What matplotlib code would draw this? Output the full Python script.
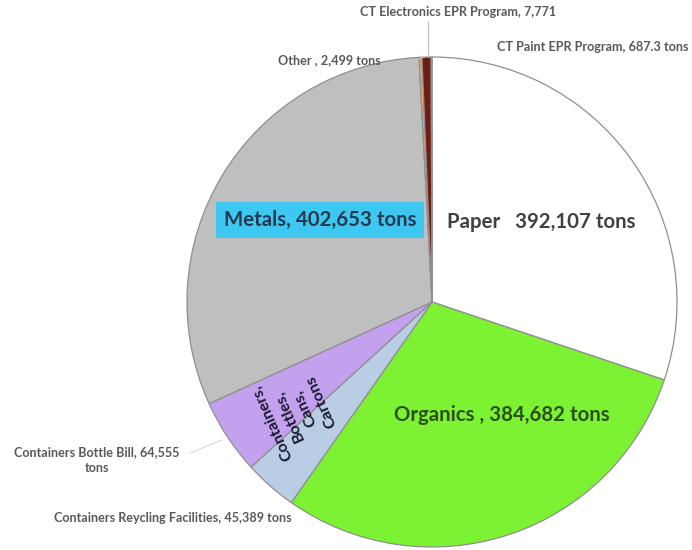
import matplotlib.pyplot as plt

# tons by source, clockwise from 12 o'clock
labels = ['Paper', 'Organics', 'Containers Reycling Facilities', 'Containers Bottle Bill',
          'Metals', 'Other', 'CT Electronics EPR Program', 'CT Paint EPR Program']
tons = [392107, 384682, 45389, 64555, 402653, 2499, 7771, 687.3]
colors = ['#ffffff', '#7df233', '#b9cde5', '#c3a1ee', '#bfbfbf', '#e8a96a', '#6e1d12', '#ffffff']

plt.rcParams['font.family'] = ['Lato', 'DejaVu Sans']

fig = plt.figure(figsize=(6.92, 5.5), dpi=100)
ax = fig.add_axes([0, 0, 1, 1])

ax.pie(tons, colors=colors, startangle=90, counterclock=False,
       center=(432, 248), radius=245, frame=True,
       wedgeprops=dict(edgecolor='#8f8f8f', linewidth=0.9))
ax.set_xlim(0, 692)
ax.set_ylim(0, 550)
ax.set_aspect('auto')
ax.axis('off')

# inside labels
big = 14.7
ax.text(447, 328, 'Paper   392,107 tons', fontsize=big, fontweight='bold',
        color='#404040', va='center', ha='left')
ax.text(320, 330, 'Metals, 402,653 tons', fontsize=big, fontweight='bold',
        color='#243a50', va='center', ha='center',
        bbox=dict(boxstyle='square,pad=0.4', facecolor='#3ec7f1', edgecolor='none'))
ax.text(502, 135, 'Organics , 384,682 tons', fontsize=big, fontweight='bold',
        color='#2c4f1c', va='center', ha='center')
ax.text(297, 138, 'Containers,\nBottles,\nCans,\nCartons', fontsize=11.5, fontweight='bold',
        color='#1a1a2e', va='center', ha='center', rotation=114,
        rotation_mode='anchor', linespacing=1.35, multialignment='center')

# outside labels with leader lines
lab_col = '#595959'
small = 9.1
ax.text(458, 538, 'CT Electronics EPR Program, 7,771', fontsize=small, fontweight='bold',
        color=lab_col, ha='center', va='center')
ax.plot([428, 428], [528, 493], color='#bfbfbf', lw=0.8)
ax.text(497, 503, 'CT Paint EPR Program, 687.3 tons', fontsize=small, fontweight='bold',
        color=lab_col, ha='left', va='center')
ax.text(278, 490, 'Other , 2,499 tons', fontsize=small, fontweight='bold',
        color=lab_col, ha='left', va='center')
ax.plot([400, 425], [486, 493], color='#bfbfbf', lw=0.8)
ax.text(97, 90, 'Containers Bottle Bill, 64,555\ntons', fontsize=small, fontweight='bold',
        color=lab_col, ha='center', va='center', linespacing=1.3)
ax.plot([190, 222], [97, 110], color='#d9d9d9', lw=0.8)
ax.text(173, 32, 'Containers Reycling Facilities, 45,389 tons', fontsize=small,
        fontweight='bold', color=lab_col, ha='center', va='center')

fig.savefig('out.png', dpi=100)
